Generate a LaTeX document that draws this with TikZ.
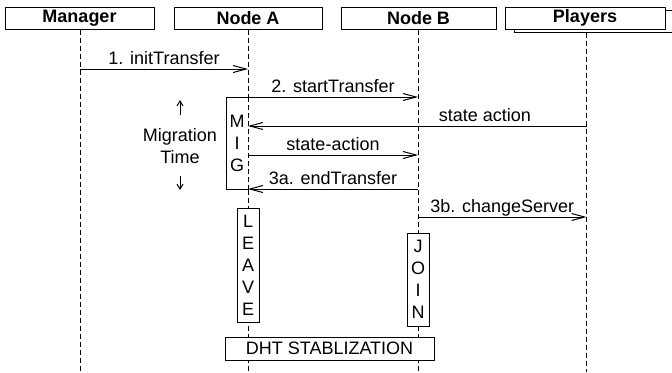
\documentclass[tikz,border=0pt]{standalone}
\usepackage{fontspec}
\setmainfont{Liberation Sans}
\usepackage{tikz}
\usetikzlibrary{arrows.meta}
\newcommand{\diagfont}{\fontsize{9}{11}\selectfont}
\tikzset{
	headbox/.style={draw, fill=white, minimum height=11pt, inner sep=0pt, font=\diagfont\bfseries},
	lifeline/.style={dash pattern=on 2.5pt off 1.5pt},
	vbox/.style={draw, fill=white, align=center, inner sep=0pt, minimum width=11pt},
	lbl/.style={above, inner sep=2pt, text depth=0pt},
	tick/.style={-{Straight Barb[length=2.5pt,width=3pt]}},
}

\begin{document}
\begin{tikzpicture}[x=0.5pt, y=-0.5pt, line width=0.5pt, font=\diagfont,
	>={Straight Barb[length=6.5pt,width=3.5pt]}]
	\useasboundingbox (0,0) rectangle (672,372);
	% headers
	\node[headbox, minimum width=74.5pt] (mgr) at (79.5,18) {Manager};
	\node[headbox, minimum width=74pt] (nodeA) at (248,18) {Node A};
	\node[headbox, minimum width=77.5pt] (nodeB) at (418.5,18) {Node B};
	\node[headbox, minimum width=80pt] (playersbk) at (594,21) {};
	\node[headbox, minimum width=80pt] (players) at (585,18) {Players};
	% lifelines
	\coordinate (mgrEnd) at (80,372);
	\coordinate (aEnd) at (248,372);
	\coordinate (bEnd) at (418,372);
	\coordinate (pEnd) at (586.5,372);
	\draw[lifeline] (mgr.south -| mgrEnd) -- (mgrEnd);
	\draw[lifeline] (nodeA.south -| aEnd) -- (aEnd);
	\draw[lifeline] (nodeB.south -| bEnd) -- (bEnd);
	\draw[lifeline] (playersbk.south -| pEnd) -- (pEnd);
	% activity boxes
	\node[vbox, minimum height=46pt] (mig) at (237,143) {M\\I\\G};
	\node[vbox, minimum height=57pt] (leave) at (248,265) {L\\E\\A\\V\\E};
	\node[vbox, minimum height=46.5pt] (join) at (418,279.5) {J\\O\\I\\N};
	\node[vbox, minimum width=104.5pt, minimum height=11.5pt] (dht) at (329.5,348.5) {DHT STABLIZATION};
	\fill[white] (mig.north east) rectangle ([xshift=-0.25pt]mig.south east);
	\draw[lifeline] (mig.north east) -- (mig.south east);
	% migration time
	\node[align=center] (mtime) at (180,146) {Migration\\Time};
	\coordinate (upTip) at (180,100);
	\coordinate (upFoot) at (180,115);
	\coordinate (dnFoot) at (180,176);
	\coordinate (dnTip) at (180,190);
	\draw[tick] (upFoot) -- (upTip);
	\draw[tick] (dnFoot) -- (dnTip);
	% message ends
	\coordinate (m-init) at (80,69);
	\coordinate (a-init) at (248,69);
	\coordinate (a-start) at (248,97);
	\coordinate (b-start) at (418,97);
	\coordinate (p-state) at (586.5,126);
	\coordinate (a-state) at (248,126);
	\coordinate (a-sa) at (248,155);
	\coordinate (b-sa) at (418,155);
	\coordinate (b-end) at (418,189);
	\coordinate (a-end) at (248,189);
	\coordinate (b-chg) at (418,217);
	\coordinate (p-chg) at (586.5,217);
	\path[->]
	(m-init) edge node [lbl] {1. initTransfer} (a-init)
	(a-start) edge node [lbl] {2. startTransfer} (b-start)
	(p-state) edge node [lbl, pos=0.3] {state action} (a-state)
	(a-sa) edge node [lbl] {state-action} (b-sa)
	(b-end) edge node [lbl] {3a. endTransfer} (a-end)
	(b-chg) edge node [lbl] {3b. changeServer} (p-chg)
	;
\end{tikzpicture}
\end{document}
